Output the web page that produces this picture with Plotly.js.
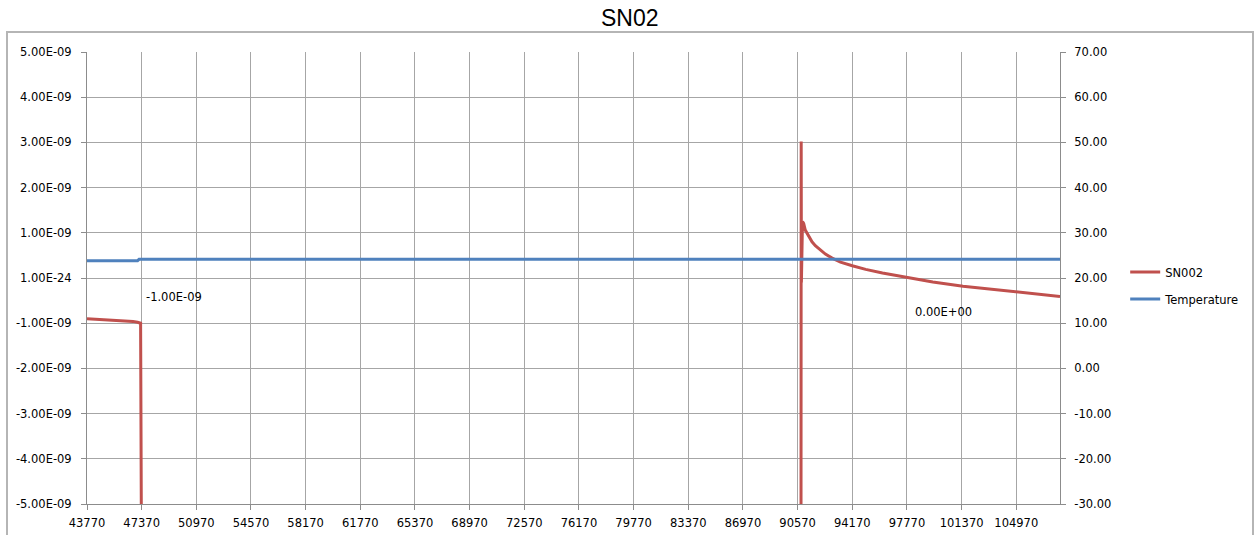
<!DOCTYPE html>
<html>
<head>
<meta charset="utf-8">
<script src="https://cdn.plot.ly/plotly-3.0.1.min.js"></script>
<style>
html,body{margin:0;padding:0;background:#fff;}
#chart{width:1257px;height:535px;}
</style>
</head>
<body>
<div id="chart"></div>
<script>
// ---- data ----
var chartTitle = "SN02";
var snName = "SN002";
var tempName = "Temperature";

// SN002 (left axis), null = gap in the record
var snX = [43770, 44300, 44800, 45300, 45800, 46300, 46800, 47100, 47300, 47380, 47381,
           90790, 90805, 90820, 90890, 90968, 91074, 91299, 91518, 91737, 92068, 92400,
           92844, 93394, 94170, 95052, 96159, 97750, 99474, 101463, 103233, 105156, 107850];
var snY = [-0.90e-9, -0.91e-9, -0.92e-9, -0.93e-9, -0.94e-9, -0.95e-9, -0.96e-9, -0.98e-9, -1.00e-9, -8e-9, null,
           -8e-9, 3.02e-9, -0.10e-9, 1.25e-9, 1.21e-9, 1.06e-9, 0.91e-9, 0.80e-9, 0.715e-9, 0.62e-9, 0.53e-9,
           0.44e-9, 0.35e-9, 0.27e-9, 0.19e-9, 0.11e-9, 0.01e-9, -0.09e-9, -0.18e-9, -0.24e-9, -0.32e-9, -0.41e-9];

// Temperature (right axis)
var tempX = [43770, 45500, 47100, 47200, 60000, 75000, 90000, 100000, 107850];
var tempY = [23.83, 23.83, 23.83, 24.14, 24.14, 24.14, 24.14, 24.14, 24.14];

// axis ticks
var xTickVals = [43770, 47370, 50970, 54570, 58170, 61770, 65370, 68970, 72570, 76170,
                 79770, 83370, 86970, 90570, 94170, 97770, 101370, 104970];
var xTickText = xTickVals.map(String);
var yTickVals = [5e-9, 4e-9, 3e-9, 2e-9, 1e-9, 0, -1e-9, -2e-9, -3e-9, -4e-9, -5e-9];
var yTickText = ["5.00E-09", "4.00E-09", "3.00E-09", "2.00E-09", "1.00E-09", "1.00E-24",
                 "-1.00E-09", "-2.00E-09", "-3.00E-09", "-4.00E-09", "-5.00E-09"];
var y2TickVals = [70, 60, 50, 40, 30, 20, 10, 0, -10, -20, -30];
var y2TickText = ["70.00", "60.00", "50.00", "40.00", "30.00", "20.00", "10.00", "0.00", "-10.00", "-20.00", "-30.00"];

// data labels
var labelTexts = ["-1.00E-09", "0.00E+00"];
var labelX = [47550, 98150];
var labelY = [-0.43e-9, -0.76e-9];

// ---- chart ----
var FONT = "DejaVu Sans, Verdana, sans-serif";
var GRID = "#a6a6a6";
var AXIS = "#8c8c8c";

var traces = [
  {x: snX, y: snY, name: snName, type: "scatter", mode: "lines",
   line: {color: "#C0504D", width: 3, shape: "linear"}, connectgaps: false, yaxis: "y", legend: "legend"},
  {x: tempX, y: tempY, name: tempName, type: "scatter", mode: "lines",
   line: {color: "#4F81BD", width: 3}, yaxis: "y2", legend: "legend2"}
];

var annotations = labelTexts.map(function (t, i) {
  return {x: labelX[i], y: labelY[i], xref: "x", yref: "y", text: t, showarrow: false,
          xanchor: "left", yanchor: "middle", font: {family: FONT, size: 11.5, color: "#000"}};
});

var layout = {
  width: 1257, height: 535,
  margin: {l: 87, r: 197, t: 52, b: 31},
  paper_bgcolor: "#fff", plot_bgcolor: "#fff",
  showlegend: true,
  title: {text: chartTitle, font: {family: "Liberation Sans, Arial, sans-serif", size: 23, color: "#000"},
          x: 0.501, xref: "container", xanchor: "center", y: 1 - 18 / 535, yref: "container", yanchor: "middle"},
  font: {family: FONT, size: 11.5, color: "#000"},
  xaxis: {range: [43770, 107850], tickmode: "array", tickvals: xTickVals, ticktext: xTickText,
          showgrid: true, gridcolor: GRID, gridwidth: 1, zeroline: false,
          showline: true, linecolor: AXIS, linewidth: 1, ticks: "outside", ticklen: 5, tickcolor: AXIS,
          ticklabelstandoff: 3, tickfont: {family: FONT, size: 11.5, color: "#000"}},
  yaxis: {range: [-5e-9, 5e-9], tickmode: "array", tickvals: yTickVals, ticktext: yTickText,
          showgrid: true, gridcolor: GRID, gridwidth: 1, zeroline: false,
          showline: true, linecolor: AXIS, linewidth: 1, ticks: "outside", ticklen: 5, tickcolor: AXIS,
          ticklabelstandoff: 7, tickfont: {family: FONT, size: 11.5, color: "#000"}},
  yaxis2: {range: [-30, 70], overlaying: "y", side: "right", tickmode: "array",
           tickvals: y2TickVals, ticktext: y2TickText, showgrid: false, zeroline: false,
           showline: true, linecolor: AXIS, linewidth: 1, ticks: "outside", ticklen: 5, tickcolor: AXIS,
           ticklabelstandoff: 6, tickfont: {family: FONT, size: 11.5, color: "#000"}},
  legend: {x: 1.067, xanchor: "left", y: 0.513, yanchor: "middle", bgcolor: "rgba(0,0,0,0)",
           font: {family: FONT, size: 11.5, color: "#000"}},
  legend2: {x: 1.067, xanchor: "left", y: 0.4535, yanchor: "middle", bgcolor: "rgba(0,0,0,0)",
            font: {family: FONT, size: 11.5, color: "#000"}},
  annotations: annotations,
  shapes: [
    {type: "path", xref: "paper", yref: "paper",
     path: "M " + ((7 - 87) / 973) + " " + ((504 - 540) / 452) +
           " L " + ((7 - 87) / 973) + " " + ((504 - 32) / 452) +
           " L " + ((1253 - 87) / 973) + " " + ((504 - 32) / 452) +
           " L " + ((1253 - 87) / 973) + " " + ((504 - 540) / 452),
     line: {color: "#b5b5b5", width: 2}, layer: "below"}
  ]
};

Plotly.newPlot("chart", traces, layout, {displayModeBar: false, staticPlot: true});
</script>
</body>
</html>
